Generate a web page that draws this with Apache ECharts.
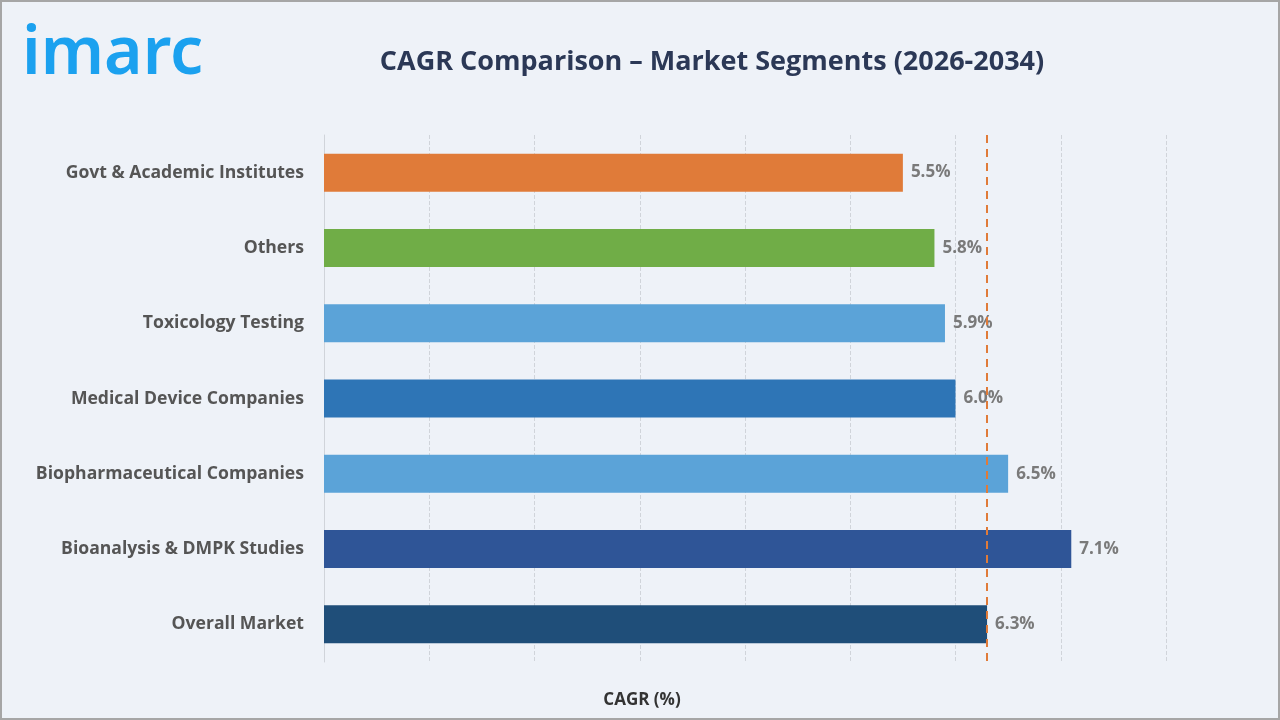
<!DOCTYPE html>
<html>
<head>
<meta charset="utf-8">
<script src="https://cdn.jsdelivr.net/npm/echarts@6/dist/echarts.min.js"></script>
<style>
  html, body { margin: 0; padding: 0; background: #eef2f8; }
  #chart { width: 1280px; height: 720px; box-sizing: border-box; border: 2px solid #a6a6a6; }
</style>
</head>
<body>
<div id="chart"></div>
<script>
// data
var segments = ['Govt & Academic Institutes', 'Others', 'Toxicology Testing', 'Medical Device Companies',
  'Biopharmaceutical Companies', 'Bioanalysis & DMPK Studies', 'Overall Market'];
var cagr = [5.5, 5.8, 5.9, 6.0, 6.5, 7.1, 6.3];
var barColors = ['#e07b39', '#70ad47', '#5ba3d8', '#2e75b6', '#5ba3d8', '#2f5597', '#1f4e79'];
var overallLine = 6.3;

var dom = document.getElementById('chart');
var myChart = echarts.init(dom);

var option = {
  backgroundColor: '#eef2f8',
  textStyle: { fontFamily: 'Open Sans, Noto Sans, sans-serif' },
  title: {
    text: 'CAGR Comparison \u2013 Market Segments (2026-2034)',
    left: 705,
    top: 42,
    textAlign: 'center',
    textStyle: { fontSize: 27, fontWeight: 'bold', color: '#2b3856' }
  },
  graphic: [{
    type: 'text',
    left: 20,
    top: 20,
    style: {
      text: 'imarc',
      font: '600 66px "Noto Sans", sans-serif',
      fill: '#1ba1ef'
    }
  }, {
    // axis title, centred on the page like the original
    type: 'text',
    x: 640,
    y: 698,
    style: {
      text: 'CAGR (%)',
      font: 'bold 17px "Open Sans", sans-serif',
      fill: '#333',
      align: 'center',
      verticalAlign: 'middle'
    }
  }],
  grid: { left: 322, right: 112, top: 133, bottom: 56 },
  xAxis: {
    type: 'value',
    min: 0,
    max: 8,
    interval: 1,
    axisLabel: { show: false },
    axisLine: { show: false },
    axisTick: { show: false },
    splitLine: { show: true, lineStyle: { color: '#d0d4da', type: 'dashed' } }
  },
  yAxis: {
    type: 'category',
    data: segments,
    inverse: true,
    axisLine: { show: true, lineStyle: { color: '#d0d4da' } },
    axisTick: { show: false },
    axisLabel: { fontSize: 17.6, fontWeight: 'bold', color: '#555', margin: 20 }
  },
  series: [{
    type: 'bar',
    data: cagr.map(function (v, i) {
      return { value: v, itemStyle: { color: barColors[i] } };
    }),
    barWidth: 38,
    label: {
      show: true,
      position: 'right',
      distance: 8,
      formatter: function (p) { return p.value.toFixed(1) + '%'; },
      fontSize: 17,
      fontWeight: 'bold',
      color: '#7a7a7a'
    },
    markLine: {
      silent: true,
      symbol: 'none',
      label: { show: false },
      lineStyle: { color: '#e07b39', type: [8, 6], width: 2 },
      data: [{ xAxis: overallLine }]
    }
  }]
};

myChart.setOption(option);
</script>
</body>
</html>
